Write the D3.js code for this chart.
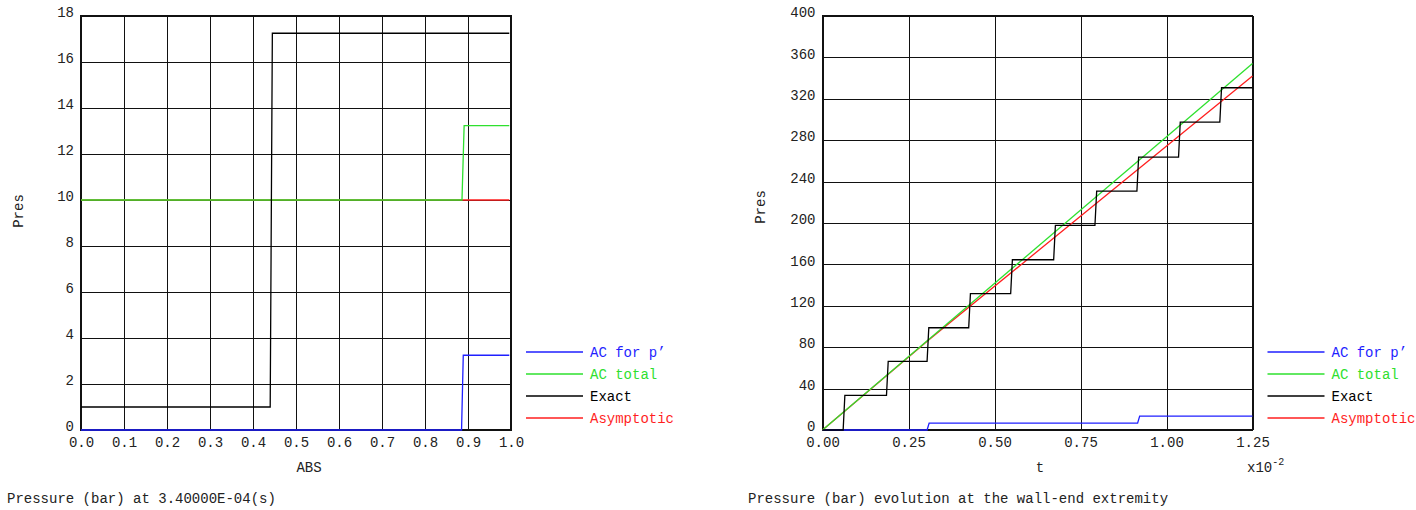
<!DOCTYPE html>
<html>
<head>
<meta charset="utf-8">
<script src="https://cdn.jsdelivr.net/npm/d3@7"></script>
<style>
body { margin: 0; background: #fff; }
text { font-family: "Liberation Mono", "DejaVu Sans Mono", monospace; font-size: 14px; fill: #222; }
</style>
</head>
<body>
<svg id="chart"></svg>
<script>
// legend
const seriesNames = ["AC for p\u2019", "AC total", "Exact", "Asymptotic"];
const seriesColors = ["#1f1fff", "#2ee02e", "#000000", "#ff1f1f"];

// left panel : pressure along ABS at 3.4e-4 s
const absTicks = [0, 0.1, 0.2, 0.3, 0.4, 0.5, 0.6, 0.7, 0.8, 0.9, 1.0];
const presTicksLeft = [0, 2, 4, 6, 8, 10, 12, 14, 16, 18];
const absAcP = [[0, 0], [0.885, 0], [0.889, 3.25], [0.996, 3.25]];
const absAcTotal = [[0, 10], [0.886, 10], [0.891, 13.23], [0.996, 13.23]];
const absExact = [[0, 1], [0.440, 1], [0.445, 17.25], [0.996, 17.25]];
const absAsym = [[0, 10], [0.996, 10]];

// right panel : pressure at the wall-end vs t (x1e-2)
const tTicks = [0, 0.25, 0.5, 0.75, 1.0, 1.25];
const presTicksRight = [0, 40, 80, 120, 160, 200, 240, 280, 320, 360, 400];
const tAcP = [[0, 0], [0.304, 0], [0.31, 6.6], [0.916, 6.6], [0.922, 13.4], [1.25, 13.4]];
const tAcTotal = [[0, 0], [1.25, 354]];
const tAsym = [[0, 0], [0.305, 86], [1.25, 342]];
const exactJumps = [0.060, 0.186, 0.304, 0.425, 0.547, 0.672, 0.792, 0.914, 1.035, 1.155];
const exactLevels = [0, 33.4, 66.3, 98.8, 131.7, 164.5, 197.7, 230.8, 263.7, 297.5, 330.7];

// staircase made from the read jump times and levels
const tExact = [[0, exactLevels[0]]];
exactJumps.forEach((t, i) => {
    tExact.push([t, exactLevels[i]]);
    tExact.push([t + 0.005, exactLevels[i + 1]]);
});
tExact.push([1.25, exactLevels[exactLevels.length - 1]]);

const svg = d3.select("#chart")
    .attr("width", 1416)
    .attr("height", 510);

svg.append("rect").attr("width", 1416).attr("height", 510).attr("fill", "#fff");

function drawPanel(p) {
    const x = d3.scaleLinear().domain(p.xDomain).range([p.left, p.right]);
    const y = d3.scaleLinear().domain(p.yDomain).range([430, 16]);
    const g = svg.append("g");

    const gx = g.append("g")
        .attr("transform", "translate(0,430)")
        .call(d3.axisBottom(x).tickValues(p.xTicks).tickFormat(d3.format(p.xFormat))
            .tickSizeInner(-414).tickSizeOuter(0).tickPadding(7));
    const gy = g.append("g")
        .attr("transform", "translate(" + p.left + ",0)")
        .call(d3.axisLeft(y).tickValues(p.yTicks).tickFormat(d3.format("d"))
            .tickSizeInner(-(p.right - p.left)).tickSizeOuter(0).tickPadding(7));
    [gx, gy].forEach(a => {
        a.select(".domain").remove();
        a.selectAll("line").attr("stroke", "#111").attr("stroke-width", 1).attr("shape-rendering", "crispEdges");
        a.selectAll("text").attr("fill", "#222").style("font-size", "14px")
            .style("font-family", "'Liberation Mono', monospace");
    });
    gy.selectAll("text").attr("dy", "0.05em");

    g.append("rect")
        .attr("x", p.left).attr("y", 16)
        .attr("width", p.right - p.left).attr("height", 414)
        .attr("fill", "none").attr("stroke", "#111").attr("stroke-width", 1.2)
        .attr("shape-rendering", "crispEdges");

    const line = d3.line().x(d => x(d[0])).y(d => y(d[1]));
    // draw order: p', asymptotic, total, exact
    [0, 3, 1, 2].forEach(i => {
        g.append("path")
            .datum(p.series[i])
            .attr("d", line)
            .attr("fill", "none")
            .attr("stroke", seriesColors[i])
            .attr("stroke-width", 1.3);
    });

    const lg = g.append("g");
    seriesNames.forEach((name, i) => {
        const ly = 352 + i * 22;
        lg.append("line")
            .attr("x1", p.right + 15).attr("x2", p.right + 72)
            .attr("y1", ly).attr("y2", ly)
            .attr("stroke", seriesColors[i]).attr("stroke-width", 1.3);
        lg.append("text")
            .attr("x", p.right + 79).attr("y", ly + 5)
            .style("fill", seriesColors[i])
            .text(name);
    });

    g.append("text")
        .attr("x", p.xLabelX).attr("y", 472)
        .attr("text-anchor", "middle")
        .text(p.xLabel);
    g.append("text")
        .attr("transform", "translate(" + p.yLabelX + "," + p.yLabelY + ") rotate(-90)")
        .attr("text-anchor", "middle")
        .text("Pres");
    g.append("text")
        .attr("x", p.footX).attr("y", 503)
        .text(p.footer);
    return g;
}

drawPanel({
    left: 81, right: 511,
    xDomain: [0, 1], yDomain: [0, 18],
    xTicks: absTicks, yTicks: presTicksLeft, xFormat: ".1f",
    series: [absAcP, absAcTotal, absExact, absAsym],
    xLabel: "ABS", xLabelX: 309,
    yLabelX: 23, yLabelY: 211,
    footer: "Pressure (bar) at 3.40000E-04(s)", footX: 7
});

const right = drawPanel({
    left: 822.5, right: 1252.5,
    xDomain: [0, 1.25], yDomain: [0, 400],
    xTicks: tTicks, yTicks: presTicksRight, xFormat: ".2f",
    series: [tAcP, tAcTotal, tExact, tAsym],
    xLabel: "t", xLabelX: 1040,
    yLabelX: 765, yLabelY: 207,
    footer: "Pressure (bar) evolution at the wall-end extremity", footX: 748
});

const mult = right.append("text").attr("x", 1247).attr("y", 472);
mult.append("tspan").text("x10");
mult.append("tspan").attr("dy", -7).style("font-size", "10px").text("-2");
</script>
</body>
</html>
